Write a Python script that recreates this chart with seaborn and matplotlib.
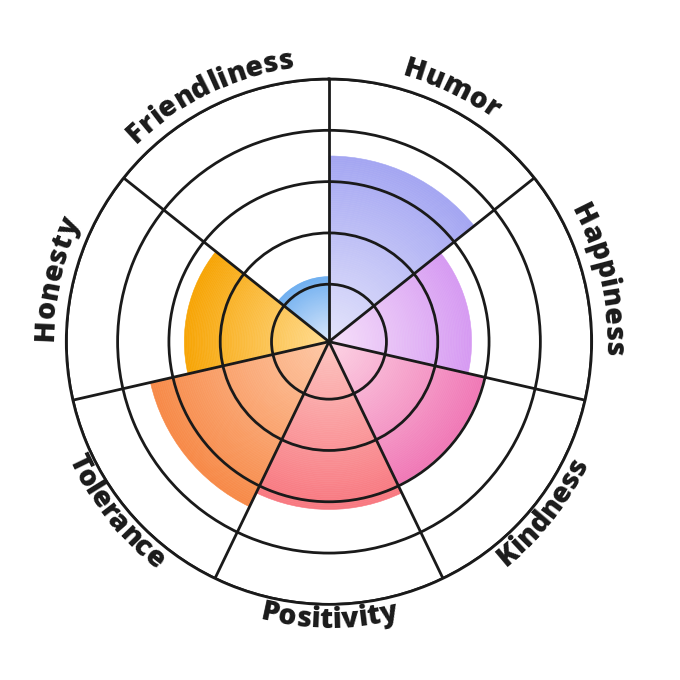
import numpy as np
import matplotlib
matplotlib.use("Agg")
import matplotlib.pyplot as plt
import seaborn as sns
from matplotlib.font_manager import FontProperties, findfont

# ---- data -------------------------------------------------------------
categories = ["Humor", "Happiness", "Kindness", "Positivity",
              "Tolerance", "Honesty", "Friendliness"]
values = [3.5, 2.66, 2.97, 3.15, 3.45, 2.7, 1.15]
ring_ticks = [1, 2, 3, 4, 5]

# ---- styles -----------------------------------------------------------
edge_colors = ["#a4a6f2", "#d69af2", "#f078b6", "#f87880",
               "#f78a48", "#f7a505", "#70b0f0"]
inner_colors = ["#e4e4fb", "#f6e0fa", "#fcd3e4", "#fcc4c0",
                "#fdc8a6", "#ffdc90", "#dde9fb"]
line_color = "#1a1a1a"

sns.set_theme(style="white")
fig = plt.figure(figsize=(6.8, 6.8), dpi=100)
ax_rect = [0.0975, 0.1112, 0.7726, 0.7726]
ax = fig.add_axes(ax_rect, projection="polar")
ax.set_theta_zero_location("N")
ax.set_theta_direction(-1)
rmin, rmax = -0.12, 5
ax.set_ylim(rmin, rmax)

n = len(categories)
width = 2 * np.pi / n
centers = np.arange(n) * width + width / 2
steps = 90
for i in range(n):
    edges = np.linspace(rmin, values[i], steps + 1)
    cols = sns.blend_palette([inner_colors[i], edge_colors[i]], steps)
    ax.bar([centers[i]] * steps, np.diff(edges), width=width,
           bottom=edges[:-1], color=cols, edgecolor=cols,
           linewidth=0.4, align="center", zorder=1)

ax.set_xticks(np.arange(n) * width)
ax.set_xticklabels([])
ax.set_yticks(ring_ticks)
ax.set_yticklabels([])
ax.grid(True, color=line_color, linewidth=2.0)
ax.set_axisbelow(False)
ax.spines["polar"].set_color(line_color)
ax.spines["polar"].set_linewidth(2.0)
ax.tick_params(pad=0, length=0)

# ---- curved labels ----------------------------------------------------
prop = FontProperties(family=["Open Sans", "DejaVu Sans"], weight="heavy", size=20.5)
print(findfont(prop))
fig.canvas.draw()
renderer = fig.canvas.get_renderer()
px_per_unit = (fig.bbox.width * ax_rect[2] / 2) / (rmax - rmin)


def r_data(px):
    return rmin + px / px_per_unit


for i, lab in enumerate(categories):
    phi = centers[i]
    deg = np.degrees(phi)
    bottom = 90 < deg < 270
    base_px = 286 if bottom else 276
    prefix = [0.0] + [renderer.get_text_width_height_descent(lab[:k], prop, ismath=False)[0]
                      for k in range(1, len(lab) + 1)]
    total = prefix[-1]
    for k, ch in enumerate(lab):
        s = (prefix[k] + prefix[k + 1]) / 2
        off = (s - total / 2) / base_px
        if bottom:
            pk = phi - off
            rot = 180 - np.degrees(pk)
        else:
            pk = phi + off
            rot = -np.degrees(pk)
        ax.text(pk, r_data(base_px), ch, rotation=rot, rotation_mode="anchor",
                ha="center", va="baseline", fontproperties=prop,
                color=line_color, clip_on=False)

fig.savefig("out.png", dpi=100, facecolor="white")
